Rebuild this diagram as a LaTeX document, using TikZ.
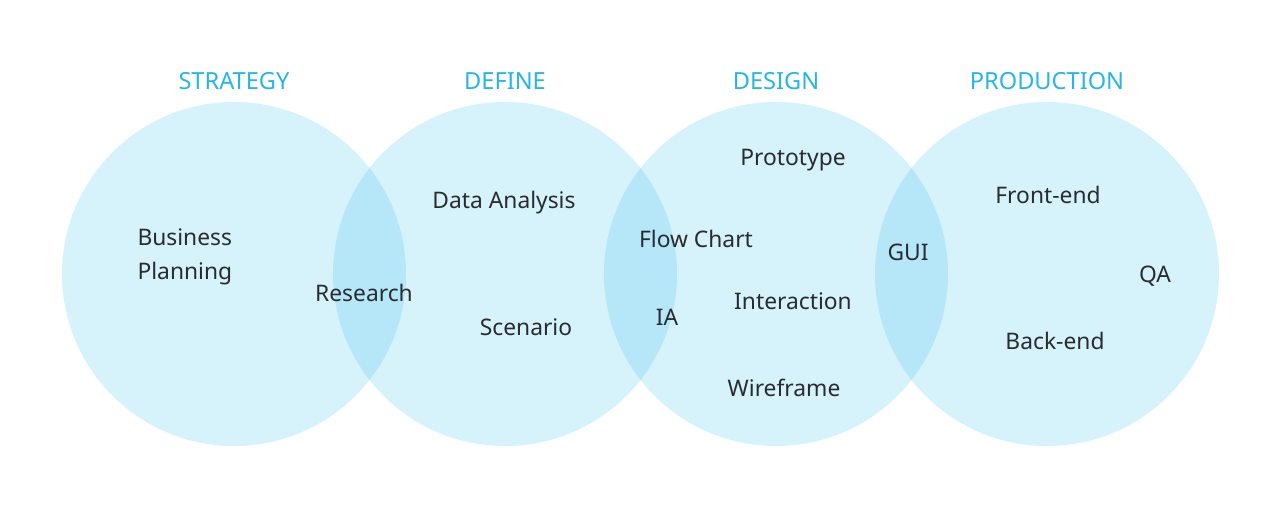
\documentclass[tikz,border=0pt]{standalone}
\usepackage{fontspec}
\setmainfont{Noto Sans}
\definecolor{circ}{RGB}{45,188,234}
\definecolor{ttl}{RGB}{38,182,230}
\definecolor{txt}{RGB}{40,44,48}
\begin{document}
\begin{tikzpicture}[x=1pt,y=-1pt,
  phase/.style={circle, minimum size=344pt, inner sep=0pt, fill=circ, fill opacity=0.195, draw=none},
  title/.style={text=ttl, font=\fontsize{23.6}{28}\selectfont},
  lbl/.style={text=txt, font=\fontsize{22.8}{34}\selectfont}]
\useasboundingbox (0,0) rectangle (1280,519);
\node[phase] (c1) at (234,274) {};
\node[phase] (c2) at (505,274) {};
\node[phase] (c3) at (776,274) {};
\node[phase] (c4) at (1047,274) {};
\node[title] (t1) at (234,81) {STRATEGY};
\node[title] (t2) at (505,81) {DEFINE};
\node[title] (t3) at (776,81) {DESIGN};
\node[title] (t4) at (1047,81) {PRODUCTION};
\node[lbl, align=left, anchor=west] (bp) at (134,257) {Business\\Planning};
\node[lbl] (rs) at (364,293) {Research};
\node[lbl] (da) at (504,203) {Data Analysis};
\node[lbl] (sc) at (526,327) {Scenario};
\node[lbl] (fc) at (696,239) {Flow Chart};
\node[lbl] (ia) at (667,317) {IA};
\node[lbl] (pt) at (793,160) {Prototype};
\node[lbl] (in) at (793,301) {Interaction};
\node[lbl] (wf) at (784,388) {Wireframe};
\node[lbl] (gu) at (908,252) {GUI};
\node[lbl] (fe) at (1048,195) {Front-end};
\node[lbl] (qa) at (1155,276) {QA};
\node[lbl] (be) at (1055,341) {Back-end};
\end{tikzpicture}
\end{document}
